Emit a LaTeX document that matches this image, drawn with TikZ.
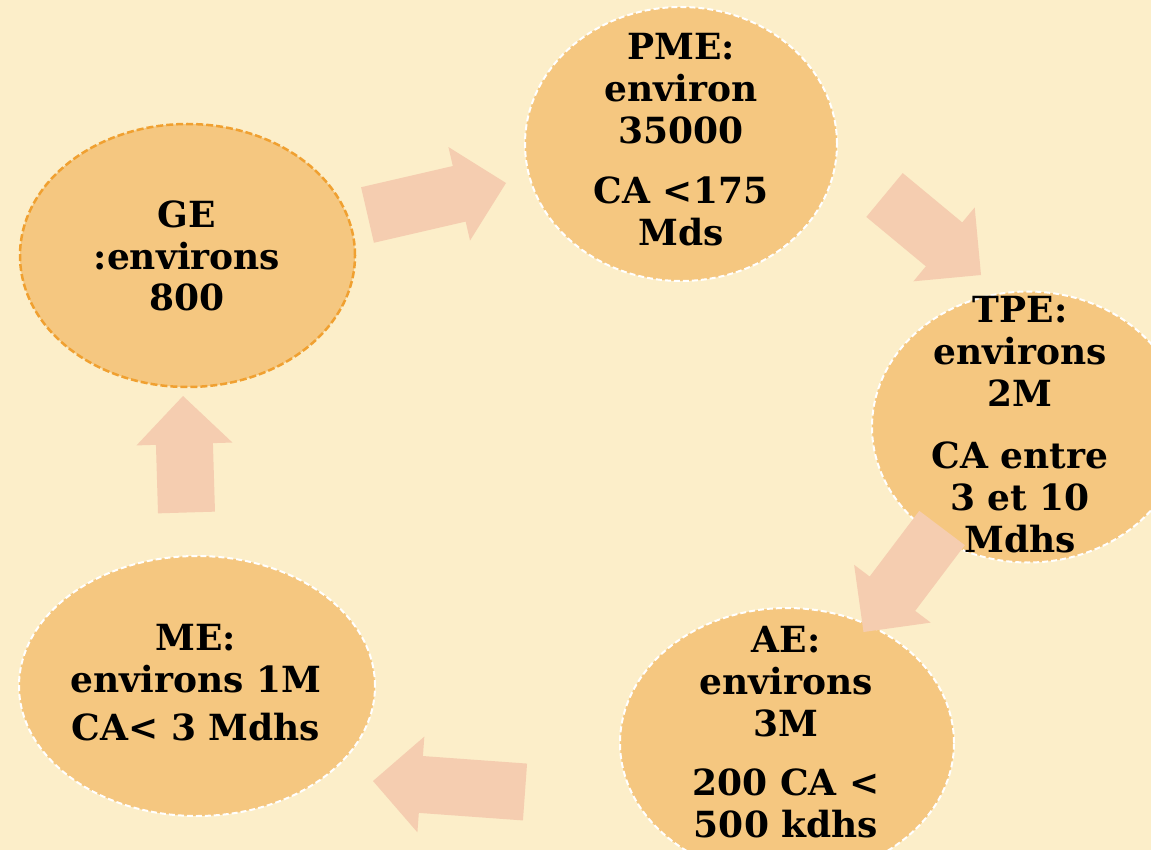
\documentclass[tikz,border=0pt]{standalone}
\usepackage{fontspec}
\setmainfont{DejaVu Serif}
\usetikzlibrary{calc,shapes.geometric}

\definecolor{paper}{RGB}{252,238,201}
\definecolor{bubblefill}{RGB}{245,199,128}
\definecolor{flowfill}{RGB}{245,205,176}
\definecolor{rim}{RGB}{240,160,48}

\tikzset{
  bubble/.style={ellipse, fill=bubblefill, draw=white, line width=2pt,
    dash pattern=on 6pt off 3pt, inner sep=0pt},
  bubbletext/.style={align=center, anchor=north, inner sep=0pt, text=black,
    font=\bfseries\fontsize{36}{42}\selectfont},
  flowarrow/.style={fill=flowfill},
}

% broad block arrow from tail centre #1 to tip #2
\newcommand\blockarrow[2]{%
  \path ($(#2)!48pt!(#1)$) coordinate (hb);
  \fill[flowarrow] ($(#1)!28.5pt!90:(#2)$) -- ($(hb)!28.5pt!90:(#2)$)
    -- ($(hb)!48pt!90:(#2)$) -- (#2) -- ($(hb)!48pt!-90:(#2)$)
    -- ($(hb)!28.5pt!-90:(#2)$) -- ($(#1)!28.5pt!-90:(#2)$) -- cycle;}

\begin{document}
\begin{tikzpicture}[x=1pt,y=-1pt]
\fill[paper] (0,0) rectangle (1151,850);
\useasboundingbox (0,0) rectangle (1151,850);
\clip (0,0) rectangle (1151,850);

% the five company classes
\node[bubble, draw=rim, line width=2.5pt, dash pattern=on 7pt off 3pt,
      minimum width=335pt, minimum height=263pt] (ge) at (187.5,255.5) {};
\node[bubble, minimum width=312pt, minimum height=274pt] (pme) at (681,144) {};
\node[bubble, minimum width=312pt, minimum height=271pt] (tpe) at (1028,427) {};
\node[bubble, minimum width=334pt, minimum height=270pt] (ae) at (787,743) {};
\node[bubble, minimum width=356pt, minimum height=260pt] (me) at (197,686) {};

% arrow ends
\coordinate (a1s) at (367.5,215);  \coordinate (a1e) at (506,183);
\coordinate (a2s) at (884.5,195);  \coordinate (a2e) at (981,275);
\coordinate (a3s) at (942,528);    \coordinate (a3e) at (863.5,632);
\coordinate (a4s) at (525,792);    \coordinate (a4e) at (373,781);
\coordinate (a5s) at (186.5,512.5);\coordinate (a5e) at (183,396);

\blockarrow{a1s}{a1e}
\blockarrow{a2s}{a2e}
\blockarrow{a3s}{a3e}
\blockarrow{a4s}{a4e}
\blockarrow{a5s}{a5e}

% labels
\node[bubbletext, font=\bfseries\fontsize{36}{41.5}\selectfont] (ge-label) at (187,201) {GE\\:environs\\800};
\node[bubbletext] (pme-label) at (681,33) {PME:\\environ\\35000\\[18pt]CA <175\\Mds};
\node[bubbletext] (tpe-label) at (1020,296) {TPE:\\environs\\2M\\[20pt]CA entre\\3 et 10\\Mdhs};
\node[bubbletext] (ae-label) at (786,626) {AE:\\environs\\3M\\[17pt]200 CA <\\500 kdhs};
\node[bubbletext] (me-label) at (196,624) {ME:\\environs 1M\\[6pt]CA< 3 Mdhs};
\end{tikzpicture}
\end{document}
